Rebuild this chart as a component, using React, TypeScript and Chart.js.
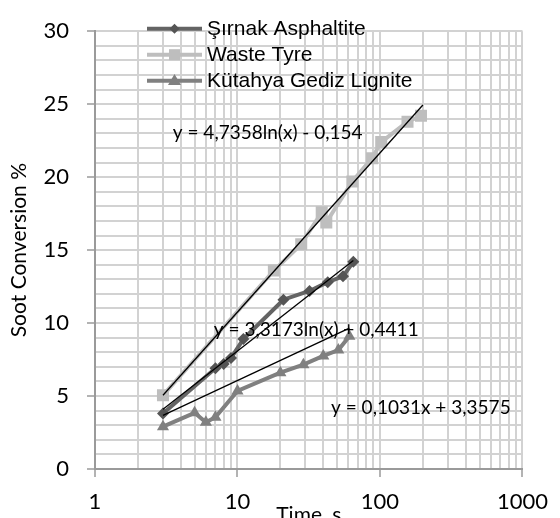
import React, { useEffect, useRef } from "react";
import { Chart, registerables } from "chart.js";

Chart.register(...registerables);

// ---- data ----
const seriesNames = ["Şırnak Asphaltite", "Waste Tyre", "Kütahya Gediz Lignite"];

const sirnakTime = [3, 7, 8, 9, 11, 21, 32, 43, 55, 65];
const sirnakConv = [3.8, 6.9, 7.2, 7.6, 8.9, 11.6, 12.2, 12.8, 13.2, 14.2];

const tyreTime = [3, 18, 28, 39, 42, 64, 88, 102, 156, 194];
const tyreConv = [5.05, 13.6, 15.4, 17.6, 16.9, 19.7, 21.3, 22.4, 23.8, 24.2];

const kutahyaTime = [3, 5, 6, 7, 10, 20, 29, 40, 51, 61];
const kutahyaConv = [2.9, 3.85, 3.2, 3.55, 5.35, 6.6, 7.15, 7.75, 8.15, 9.1];

const tyreTrendX = [3, 200];
const tyreTrendY = [5.05, 24.94];
const sirnakTrendX = [3, 65];
const sirnakTrendY = [4.09, 14.29];
const kutahyaTrendX = [3, 61];
const kutahyaTrendY = [3.67, 9.65];

const trendEquations = [
  "y = 4,7358ln(x) - 0,154",
  "y = 3,3173ln(x) + 0,4411",
  "y = 0,1031x + 3,3575",
];
const equationAnchorX = [16.3, 35.7, 193.6];
const equationAnchorY = [23.06, 9.5, 4.19];

const xTickValues = [
  1, 2, 3, 4, 5, 6, 7, 8, 9, 10, 20, 30, 40, 50, 60, 70, 80, 90, 100, 200, 300,
  400, 500, 600, 700, 800, 900, 1000,
];
const xMajorTicks = [1, 10, 100, 1000];
const yMin = 0;
const yMax = 30;
const yGridStep = 1;
const yLabelStep = 5;

const xTitle = "Time, s";
const yTitle = "Soot Conversion %";

// ---- styles ----
const COL_SIRNAK_LINE = "#646464";
const COL_SIRNAK_PT = "#555555";
const COL_TYRE = "#bebebe";
const COL_KUT = "#808080";
const GRID = "#d2d2d2";
const AXIS = "#9a9a9a";

const toPoints = (xs: number[], ys: number[]) => xs.map((x, i) => ({ x, y: ys[i] }));

function drawMarker(
  ctx: CanvasRenderingContext2D,
  style: string,
  x: number,
  y: number,
  r: number,
  color: string
) {
  ctx.fillStyle = color;
  ctx.beginPath();
  if (style === "diamond") {
    ctx.moveTo(x, y - r);
    ctx.lineTo(x + r, y);
    ctx.lineTo(x, y + r);
    ctx.lineTo(x - r, y);
  } else if (style === "square") {
    ctx.rect(x - r, y - r, 2 * r, 2 * r);
  } else {
    const h = r * 1.7;
    ctx.moveTo(x, y - h * 0.6);
    ctx.lineTo(x + r, y + h * 0.4);
    ctx.lineTo(x - r, y + h * 0.4);
  }
  ctx.closePath();
  ctx.fill();
}

const overlayPlugin = {
  id: "overlay",
  afterDraw(chart: any) {
    const ctx: CanvasRenderingContext2D = chart.ctx;
    const xs = chart.scales.x;
    const ys = chart.scales.y;
    const area = chart.chartArea;
    ctx.save();

    // trendline equations
    ctx.font = "19px Lato";
    ctx.fillStyle = "#000";
    ctx.textAlign = "center";
    ctx.textBaseline = "middle";
    trendEquations.forEach((t, i) => {
      ctx.fillText(
        t,
        xs.getPixelForValue(equationAnchorX[i]),
        ys.getPixelForValue(equationAnchorY[i])
      );
    });

    // legend (overlapping the plot, no background)
    const legendItems = [
      { color: COL_SIRNAK_LINE, mColor: COL_SIRNAK_PT, style: "diamond", r: 5 },
      { color: COL_TYRE, mColor: COL_TYRE, style: "square", r: 5.5 },
      { color: COL_KUT, mColor: COL_KUT, style: "triangle", r: 6.5 },
    ];
    const lx0 = area.left + 52;
    const lx1 = lx0 + 55;
    const rowY0 = area.top - 2.5;
    const rowGap = 26;
    ctx.font = "21px 'Liberation Sans', Arial, sans-serif";
    ctx.textAlign = "left";
    ctx.textBaseline = "middle";
    legendItems.forEach((it, i) => {
      const y = rowY0 + i * rowGap;
      ctx.strokeStyle = it.color;
      ctx.lineWidth = 4;
      ctx.beginPath();
      ctx.moveTo(lx0, y);
      ctx.lineTo(lx1, y);
      ctx.stroke();
      drawMarker(ctx, it.style, (lx0 + lx1) / 2, y, it.r, it.mColor);
      ctx.fillStyle = "#000";
      ctx.fillText(seriesNames[i], lx1 + 5, y + 1);
    });

    // x axis title (partly cut by the bottom edge, as in the reference)
    ctx.font = "21px Lato";
    ctx.textAlign = "center";
    ctx.textBaseline = "middle";
    ctx.fillStyle = "#000";
    ctx.fillText(xTitle, (area.left + area.right) / 2, area.bottom + 46);

    ctx.restore();
  },
};

export default function App() {
  const ref = useRef<HTMLCanvasElement | null>(null);

  useEffect(() => {
    if (!ref.current) return;
    const trendStyle = {
      type: "line" as const,
      borderColor: "#000000",
      borderWidth: 1.3,
      pointRadius: 0,
      fill: false,
      tension: 0,
      order: 0,
    };
    const chart = new Chart(ref.current, {
      type: "line",
      data: {
        datasets: [
          {
            ...trendStyle,
            label: "trend tyre",
            data: toPoints(tyreTrendX, tyreTrendY),
          },
          {
            ...trendStyle,
            label: "trend sirnak",
            data: toPoints(sirnakTrendX, sirnakTrendY),
          },
          {
            ...trendStyle,
            label: "trend kutahya",
            data: toPoints(kutahyaTrendX, kutahyaTrendY),
          },
          {
            label: seriesNames[0],
            data: toPoints(sirnakTime, sirnakConv),
            borderColor: COL_SIRNAK_LINE,
            backgroundColor: COL_SIRNAK_PT,
            pointBackgroundColor: COL_SIRNAK_PT,
            pointBorderColor: COL_SIRNAK_PT,
            borderWidth: 4,
            pointStyle: "rectRot",
            pointRadius: 6,
            pointBorderWidth: 0,
            tension: 0,
            order: 1,
          },
          {
            label: seriesNames[1],
            data: toPoints(tyreTime, tyreConv),
            borderColor: COL_TYRE,
            backgroundColor: COL_TYRE,
            pointBackgroundColor: COL_TYRE,
            pointBorderColor: COL_TYRE,
            borderWidth: 4,
            pointStyle: "rect",
            pointRadius: 8.5,
            pointBorderWidth: 0,
            tension: 0,
            order: 2,
          },
          {
            label: seriesNames[2],
            data: toPoints(kutahyaTime, kutahyaConv),
            borderColor: COL_KUT,
            backgroundColor: COL_KUT,
            pointBackgroundColor: COL_KUT,
            pointBorderColor: COL_KUT,
            borderWidth: 4,
            pointStyle: "triangle",
            pointRadius: 7,
            pointBorderWidth: 0,
            tension: 0,
            order: 3,
          },
        ],
      },
      options: {
        responsive: false,
        animation: false,
        devicePixelRatio: 1,
        layout: { padding: { left: 0, top: 25, right: 32, bottom: 0 } },
        plugins: {
          legend: { display: false },
          tooltip: { enabled: false },
          title: { display: false },
        },
        scales: {
          x: {
            type: "logarithmic",
            min: 1,
            max: 1000,
            afterBuildTicks: (scale: any) => {
              scale.ticks = xTickValues.map((v) => ({ value: v }));
            },
            afterFit: (scale: any) => {
              scale.height = 49;
            },
            ticks: {
              autoSkip: false,
              maxRotation: 0,
              padding: 12,
              color: "#000",
              font: { family: "Lato", size: 22 },
              callback: (v: any) => (xMajorTicks.includes(Number(v)) ? String(v) : ""),
            },
            grid: {
              color: GRID,
              lineWidth: 2,
              drawTicks: true,
              tickLength: 8,
              tickWidth: 1.5,
              tickColor: (c: any) =>
                c.tick && xMajorTicks.includes(c.tick.value) ? AXIS : "rgba(0,0,0,0)",
            },
            border: { color: AXIS, width: 2 },
          },
          y: {
            type: "linear",
            min: yMin,
            max: yMax,
            afterFit: (scale: any) => {
              scale.width = 95;
            },
            ticks: {
              stepSize: yGridStep,
              autoSkip: false,
              padding: 18,
              color: "#000",
              font: { family: "Lato", size: 22 },
              callback: (v: any) => (Number(v) % yLabelStep === 0 ? String(v) : ""),
            },
            grid: {
              color: GRID,
              lineWidth: 2,
              drawTicks: true,
              tickLength: 8,
              tickWidth: 1.5,
              tickColor: (c: any) =>
                c.tick && c.tick.value % yLabelStep === 0 ? AXIS : "rgba(0,0,0,0)",
            },
            border: { color: AXIS, width: 2 },
            title: {
              display: true,
              text: yTitle,
              color: "#000",
              font: { family: "Lato", size: 21 },
              padding: { top: 7, bottom: 0 },
            },
          },
        },
      },
      plugins: [overlayPlugin],
    } as any);
    return () => chart.destroy();
  }, []);

  return (
    <div style={{ position: "fixed", left: 0, top: 0, width: 560, height: 518, background: "#fff" }}>
      <canvas ref={ref} width={560} height={518} style={{ width: 560, height: 518, display: "block" }} />
    </div>
  );
}
